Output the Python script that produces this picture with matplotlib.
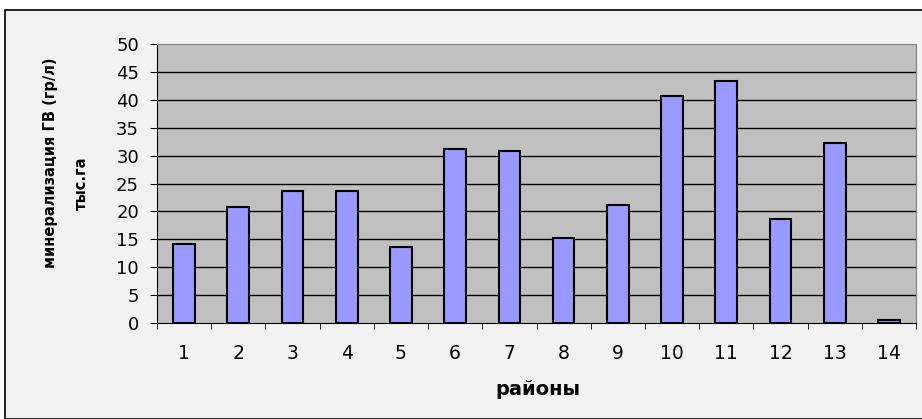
import matplotlib
matplotlib.use('Agg')
import matplotlib.pyplot as plt
from matplotlib.patches import Rectangle

plt.rcParams['font.family'] = ['DejaVu Sans']

# --- Data ---
districts = ['1', '2', '3', '4', '5', '6', '7', '8', '9', '10', '11', '12', '13', '14']
mineralization = [14.2, 20.8, 23.7, 23.7, 13.6, 31.2, 30.9, 15.3, 21.1, 40.7, 43.3, 18.7, 32.3, 0.6]
y_ticks = [0, 5, 10, 15, 20, 25, 30, 35, 40, 45, 50]

fig = plt.figure(figsize=(9.22, 4.19), dpi=100)
fig.patch.set_facecolor('white')

# outer chart frame (behind the axes)
frame = Rectangle((5 / 922, 0), 1.0, 1 - 10 / 419, transform=fig.transFigure,
                  facecolor='#f2f2f2', edgecolor='black', linewidth=1.2, zorder=-10)
fig.patches.append(frame)

ax = fig.add_axes([157 / 922, 1 - 323 / 419, (916 - 157) / 922, (323 - 44) / 419])
ax.set_facecolor('#c0c0c0')

x = list(range(len(districts)))
ax.bar(x, mineralization, width=0.4, color='#9999ff', edgecolor='black',
       linewidth=1.5, zorder=3)

ax.set_xlim(-0.5, len(districts) - 0.5)
ax.set_ylim(0, 50)
ax.set_yticks(y_ticks)
ax.set_yticklabels([str(t) for t in y_ticks], fontsize=13)
ax.set_xticks(x)
ax.set_xticklabels(districts, fontsize=13.5)
ax.tick_params(axis='x', length=0, pad=15)
ax.set_xticks([i - 0.5 for i in range(len(districts) + 1)], minor=True)
ax.tick_params(axis='x', which='minor', length=4.5, direction='out', color='black')
ax.tick_params(axis='y', length=5, direction='out', pad=8)

for t in y_ticks[1:-1]:
    ax.axhline(t, color='black', linewidth=1, zorder=1)

for side in ['top', 'right']:
    ax.spines[side].set_color('#808080')
ax.spines['left'].set_color('black')
ax.spines['bottom'].set_color('black')

fig.text(538 / 922, 1 - 389 / 419, 'районы', ha='center', va='center',
         fontsize=14, fontweight='bold')
fig.text(50 / 922, 1 - 163 / 419, 'минерализация ГВ (гр/л)', ha='center', va='center',
         rotation=90, fontsize=10.5, fontweight='bold')
fig.text(81 / 922, 1 - 183 / 419, 'тыс.га', ha='center', va='center',
         rotation=90, fontsize=10.5, fontweight='bold')

fig.savefig('out.png', dpi=100)
